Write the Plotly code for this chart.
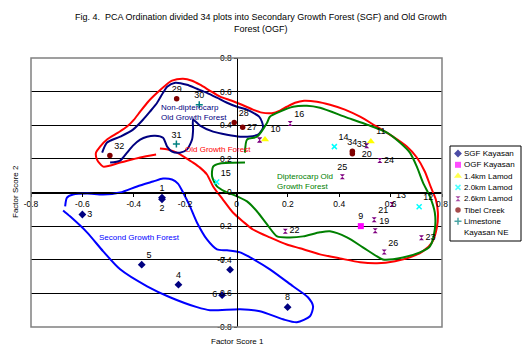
import plotly.graph_objects as go

# ---------------- data ----------------
title_text = "Fig. 4.\u00a0 PCA Ordination divided 34 plots into Secondary Growth Forest (SGF) and Old Growth<br>Forest (OGF)"
x_title = "Factor Score 1"
y_title = "Factor Score 2"

tick_vals = [-0.8, -0.6, -0.4, -0.2, 0, 0.2, 0.4, 0.6, 0.8]
tick_text = ["-0.8", "-0.6", "-0.4", "-0.2", "0", "0.2", "0.4", "0.6", "0.8"]

group_names = ["SGF Kayasan", "OGF Kayasan", "1.4km Lamod", "2.0km Lamod",
               "2.6km Lamod", "Tibel Creek", "Limestone Kayasan NE"]

sgf_ids = ["1", "2", "3", "4", "5", "6", "7", "8"]
sgf_x = [-0.29, -0.29, -0.60, -0.226, -0.369, -0.056, -0.025, 0.199]
sgf_y = [-0.03, -0.04, -0.131, -0.548, -0.429, -0.611, -0.459, -0.682]
sgf_pos = ["top center", "bottom center", "middle right", "top center",
           "top right", "middle left", "top left", "top center"]

ogf_ids = ["9"]
ogf_x = [0.484]
ogf_y = [-0.20]
ogf_pos = ["top center"]

l14_ids = ["10", "11"]
l14_x = [0.111, 0.523]
l14_y = [0.315, 0.304]
l14_pos = ["top right", "top right"]

l20_ids = ["12", "14", "15"]
l20_x = [0.711, 0.381, -0.077]
l20_y = [-0.085, 0.273, 0.063]
l20_pos = ["top right", "top right", "top right"]

l26_ids = ["13", "16", "", "", "19", "20", "21", "22", "23", "24", "25", "26"]
l26_x = [0.605, 0.209, 0.09, 0.09, 0.54, 0.507, 0.536, 0.19, 0.72, 0.558, 0.412, 0.575]
l26_y = [-0.071, 0.41, 0.313, 0.313, -0.227, 0.278, -0.162, -0.23, -0.269, 0.19, 0.093, -0.354]
l26_pos = ["top right", "top right", "top right", "top right", "top right", "bottom center",
           "top right", "middle right", "middle right", "middle right", "top center", "top right"]

tib_ids = ["27", "28", "29", "32", "33", "34"]
tib_x = [0.024, -0.009, -0.233, -0.493, 0.451, 0.451]
tib_y = [0.388, 0.417, 0.558, 0.22, 0.23, 0.245]
tib_pos = ["middle right", "top right", "top center", "top right", "top right", "top center"]

lime_ids = ["30", "31"]
lime_x = [-0.145, -0.234]
lime_y = [0.522, 0.289]
lime_pos = ["top center", "top center"]

# hand-drawn group outlines (Factor Score units)
ogf_curve_x = [-0.313, -0.375, -0.453, -0.519, -0.543, -0.547, -0.531, -0.504, -0.461, -0.426, -0.399, -0.375,
               -0.344, -0.309, -0.278, -0.251, -0.208, -0.173, -0.142, -0.103, -0.064, -0.018, 0.021, 0.064,
               0.099, 0.138, 0.169, 0.196, 0.228, 0.263, 0.313, 0.364, 0.422, 0.481, 0.539, 0.609, 0.663,
               0.702, 0.733, 0.757, 0.776, 0.784, 0.780, 0.761, 0.725, 0.675, 0.617, 0.547, 0.481, 0.403,
               0.325, 0.247, 0.196, 0.130, 0.064, 0.025, -0.014, -0.053, -0.091, -0.115, -0.142, -0.169,
               -0.200, -0.232, -0.267, -0.298]
ogf_curve_y = [0.226, 0.208, 0.178, 0.154, 0.196, 0.237, 0.273, 0.315, 0.356, 0.392, 0.433, 0.481, 0.540,
               0.593, 0.635, 0.665, 0.677, 0.665, 0.641, 0.605, 0.570, 0.546, 0.522, 0.493, 0.475, 0.472,
               0.487, 0.510, 0.534, 0.546, 0.540, 0.522, 0.493, 0.451, 0.398, 0.332, 0.273, 0.208, 0.125,
               0.030, -0.042, -0.119, -0.208, -0.297, -0.350, -0.386, -0.409, -0.421, -0.415, -0.392,
               -0.368, -0.332, -0.309, -0.267, -0.220, -0.172, -0.119, -0.042, 0.036, 0.107, 0.148, 0.178,
               0.208, 0.237, 0.255, 0.261]

nondip_curve_x = [-0.523, -0.504, -0.453, -0.403, -0.364, -0.337, -0.309, -0.286, -0.270, -0.239, -0.193,
                  -0.154, -0.115, -0.076, -0.037, 0.002, 0.041, 0.064, 0.088, 0.099, 0.103, 0.084, 0.041,
                  0.014, -0.037, -0.091, -0.142, -0.169, -0.169, -0.173, -0.193, -0.220, -0.251, -0.270,
                  -0.286, -0.317, -0.348, -0.375, -0.403, -0.426, -0.453, -0.492]
nondip_curve_y = [0.237, 0.297, 0.332, 0.374, 0.433, 0.481, 0.534, 0.593, 0.629, 0.653, 0.641, 0.617, 0.593,
                  0.564, 0.534, 0.510, 0.493, 0.475, 0.451, 0.421, 0.386, 0.344, 0.332, 0.332, 0.344, 0.362,
                  0.398, 0.433, 0.374, 0.315, 0.255, 0.237, 0.243, 0.273, 0.326, 0.338, 0.332, 0.315, 0.279,
                  0.237, 0.190, 0.178]

dip_curve_x = [0.033, -0.064, -0.091, -0.095, -0.076, -0.045, -0.014, 0.041, 0.080, 0.119, 0.158, 0.208,
               0.259, 0.325, 0.364, 0.430, 0.492, 0.547, 0.570, 0.648, 0.714, 0.753, 0.772, 0.772, 0.753,
               0.726, 0.702, 0.675, 0.636, 0.586, 0.508, 0.430, 0.325, 0.274, 0.220, 0.169, 0.130, 0.119,
               0.080, 0.041, 0.033]
dip_curve_y = [0.178, 0.172, 0.154, 0.095, 0.036, 0.006, -0.012, -0.053, -0.113, -0.190, -0.261, -0.267,
               -0.261, -0.237, -0.231, -0.267, -0.326, -0.380, -0.398, -0.386, -0.356, -0.320, -0.220,
               -0.119, -0.024, 0.059, 0.154, 0.237, 0.297, 0.356, 0.404, 0.445, 0.504, 0.516, 0.510,
               0.481, 0.451, 0.415, 0.332, 0.315, 0.237]

sgf_curve_x = [-0.667, -0.660, -0.636, -0.582, -0.519, -0.453, -0.387, -0.325, -0.286, -0.251, -0.228,
               -0.208, -0.181, -0.154, -0.115, -0.076, -0.037, 0.014, 0.053, 0.130, 0.220, 0.278, 0.298,
               0.286, 0.235, 0.181, 0.091, 0.014, -0.103, -0.154, -0.259, -0.348, -0.453, -0.519, -0.582,
               -0.648, -0.675]
sgf_curve_y = [-0.083, -0.030, -0.012, -0.006, -0.012, 0.0, 0.036, 0.065, 0.083, 0.077, 0.053, 0.0, -0.083,
               -0.178, -0.279, -0.338, -0.344, -0.356, -0.386, -0.457, -0.558, -0.623, -0.677, -0.736,
               -0.772, -0.754, -0.706, -0.694, -0.700, -0.682, -0.623, -0.558, -0.457, -0.350, -0.237,
               -0.142, -0.107]

# region labels
region_labels = ["Non-dipterocarp<br>Old Growth Forest", "Old Growth Forest",
                 "Dipterocarp Old<br>Growth Forest", "Second Growth Forest"]
region_x = [-0.302, -0.208, 0.150, -0.543]
region_y = [0.475, 0.255, 0.067, -0.265]
region_colors = ["#000080", "#FF0000", "#008000", "#0000FF"]

# ---------------- figure ----------------
W, H = 522, 357
PL, PR, PT, PB = 31, 442, 58, 327
FONT = "Arial, 'Liberation Sans', sans-serif"

fig = go.Figure()

for cx, cy, col in [(ogf_curve_x, ogf_curve_y, "#FF0000"),
                    (nondip_curve_x, nondip_curve_y, "#000080"),
                    (dip_curve_x, dip_curve_y, "#008000"),
                    (sgf_curve_x, sgf_curve_y, "#0000FF")]:
    fig.add_trace(go.Scatter(x=cx, y=cy, mode="lines",
                             line=dict(color=col, width=2, shape="spline", smoothing=0.7),
                             hoverinfo="skip", showlegend=False))

styles = [
    dict(symbol="diamond", color="#000080", size=6, line=dict(width=0)),
    dict(symbol="square", color="#FF00FF", size=6, line=dict(width=0)),
    dict(symbol="triangle-up", color="#FFFF00", size=7, line=dict(width=0)),
    dict(symbol="x-thin", color="#00FFFF", size=5, line=dict(color="#00FFFF", width=1.5)),
    dict(symbol="hourglass", color="#800080", size=5, line=dict(width=0)),
    dict(symbol="circle", color="#800000", size=5.5, line=dict(width=0)),
    dict(symbol="cross-thin", color="#008080", size=5, line=dict(color="#008080", width=1.5)),
]

groups = [(sgf_ids, sgf_x, sgf_y, sgf_pos), (ogf_ids, ogf_x, ogf_y, ogf_pos),
          (l14_ids, l14_x, l14_y, l14_pos), (l20_ids, l20_x, l20_y, l20_pos),
          (l26_ids, l26_x, l26_y, l26_pos), (tib_ids, tib_x, tib_y, tib_pos),
          (lime_ids, lime_x, lime_y, lime_pos)]

for (ids, gx, gy, gpos), st, name in zip(groups, styles, group_names):
    fig.add_trace(go.Scatter(x=gx, y=gy, mode="markers+text", name=name,
                             text=ids, textposition=gpos,
                             textfont=dict(family=FONT, size=9, color="black"),
                             marker=st, cliponaxis=False, showlegend=False))

# legend (custom, drawn in its own small axes)
leg_y = [7.5 + 11.3 * i for i in range(len(group_names))]
fig.add_trace(go.Scatter(x=[8] * len(group_names), y=leg_y, mode="markers",
                         marker=dict(symbol=[s["symbol"] for s in styles],
                                     color=[s["color"] for s in styles],
                                     size=[s["size"] for s in styles],
                                     line=dict(color=[s["color"] for s in styles],
                                               width=[s["line"]["width"] for s in styles])),
                         xaxis="x2", yaxis="y2", cliponaxis=False, showlegend=False, hoverinfo="skip"))

annotations = []
leg_lines = group_names[:-1] + ["Limestone"]
for i, t in enumerate(leg_lines):
    annotations.append(dict(x=12, y=leg_y[i], xref="x2", yref="y2", text=t, showarrow=False,
                            xanchor="left", yanchor="middle", font=dict(family=FONT, size=8, color="black")))
annotations.append(dict(x=12, y=leg_y[-1] + 11.5, xref="x2", yref="y2", text="Kayasan NE", showarrow=False,
                        xanchor="left", yanchor="middle", font=dict(family=FONT, size=8, color="black")))

for t, rx, ry, rc in zip(region_labels, region_x, region_y, region_colors):
    annotations.append(dict(x=rx, y=ry, xref="x", yref="y", text=t, showarrow=False, align="left",
                            xanchor="left", yanchor="middle", font=dict(family=FONT, size=8, color=rc)))

annotations.append(dict(x=261 / W, y=1 - 23.5 / H, xref="paper", yref="paper", text=title_text,
                        showarrow=False, xanchor="center", yanchor="middle",
                        font=dict(family=FONT, size=9, color="black")))
annotations.append(dict(x=237 / W, y=1 - 341 / H, xref="paper", yref="paper", text=x_title,
                        showarrow=False, xanchor="center", yanchor="middle",
                        font=dict(family=FONT, size=8, color="black")))
annotations.append(dict(x=15 / W, y=1 - 192 / H, xref="paper", yref="paper", text=y_title, textangle=-90,
                        showarrow=False, xanchor="center", yanchor="middle",
                        font=dict(family=FONT, size=8, color="black")))

tickfont = dict(family=FONT, size=8.5, color="black")
fig.update_layout(
    template="none",
    width=W, height=H, margin=dict(l=0, r=0, t=0, b=0, pad=0, autoexpand=False),
    paper_bgcolor="white", plot_bgcolor="white", showlegend=False,
    xaxis=dict(domain=[PL / W, PR / W], range=[-0.8, 0.8], anchor="free", automargin=False,
               position=1 - (PT + PB) / 2 / H, showgrid=False, zeroline=False,
               showline=True, linecolor="black", linewidth=1, ticks="outside", ticklen=3,
               tickcolor="black", tickvals=tick_vals, ticktext=tick_text, tickfont=tickfont),
    yaxis=dict(domain=[1 - PB / H, 1 - PT / H], range=[-0.8, 0.8], anchor="free", automargin=False,
               position=(PL + PR) / 2 / W, showgrid=True, gridcolor="black", gridwidth=1,
               zeroline=False, showline=True, linecolor="black", linewidth=1, ticks="outside",
               ticklen=3, tickcolor="black", tickvals=tick_vals, ticktext=tick_text, tickfont=tickfont),
    xaxis2=dict(domain=[450 / W, 521 / W], range=[0, 71], anchor="y2", visible=False, automargin=False),
    yaxis2=dict(domain=[1 - 241 / H, 1 - 146 / H], range=[95, 0], anchor="x2", visible=False, automargin=False),
    annotations=annotations,
    shapes=[
        dict(type="rect", xref="x domain", yref="y domain", x0=0, x1=1, y0=0, y1=1,
             line=dict(color="#808080", width=1.5), layer="above"),
        dict(type="rect", xref="paper", yref="paper", x0=450 / W, x1=521 / W,
             y0=1 - 241 / H, y1=1 - 146 / H, line=dict(color="black", width=1), layer="below"),
    ],
)

fig.write_html("out.html", config={"displayModeBar": False},
               post_script="document.body.style.margin='0';document.body.style.overflow='hidden';")
